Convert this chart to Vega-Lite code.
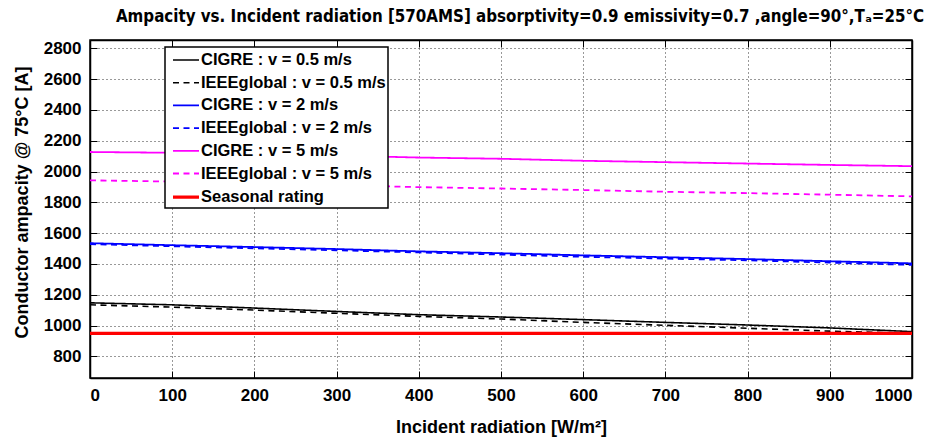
{
  "$schema": "https://vega.github.io/schema/vega-lite/v6.json",
  "width": 822,
  "height": 338,
  "autosize": {"type": "none"},
  "padding": {"left": 90, "top": 40, "right": 21, "bottom": 62},
  "background": "white",
  "title": {
    "text": "Ampacity vs. Incident radiation [570AMS] absorptivity=0.9 emissivity=0.7 ,angle=90°,Tₐ=25°C",
    "font": "DejaVu Sans Condensed",
    "fontWeight": "bold",
    "fontSize": 16.8,
    "color": "black",
    "anchor": "middle",
    "dx": 19,
    "offset": 14
  },
  "data": {
    "values": [
      {"r": 0, "a": 1148, "s": "CIGRE : v = 0.5 m/s"},
      {"r": 100, "a": 1135, "s": "CIGRE : v = 0.5 m/s"},
      {"r": 200, "a": 1114, "s": "CIGRE : v = 0.5 m/s"},
      {"r": 300, "a": 1092, "s": "CIGRE : v = 0.5 m/s"},
      {"r": 400, "a": 1071, "s": "CIGRE : v = 0.5 m/s"},
      {"r": 500, "a": 1056, "s": "CIGRE : v = 0.5 m/s"},
      {"r": 600, "a": 1039, "s": "CIGRE : v = 0.5 m/s"},
      {"r": 700, "a": 1021, "s": "CIGRE : v = 0.5 m/s"},
      {"r": 800, "a": 1004, "s": "CIGRE : v = 0.5 m/s"},
      {"r": 900, "a": 985, "s": "CIGRE : v = 0.5 m/s"},
      {"r": 1000, "a": 961, "s": "CIGRE : v = 0.5 m/s"},
      {"r": 0, "a": 1135, "s": "IEEEglobal : v = 0.5 m/s"},
      {"r": 100, "a": 1120, "s": "IEEEglobal : v = 0.5 m/s"},
      {"r": 200, "a": 1101, "s": "IEEEglobal : v = 0.5 m/s"},
      {"r": 300, "a": 1080, "s": "IEEEglobal : v = 0.5 m/s"},
      {"r": 400, "a": 1060, "s": "IEEEglobal : v = 0.5 m/s"},
      {"r": 500, "a": 1043, "s": "IEEEglobal : v = 0.5 m/s"},
      {"r": 600, "a": 1021, "s": "IEEEglobal : v = 0.5 m/s"},
      {"r": 700, "a": 1002, "s": "IEEEglobal : v = 0.5 m/s"},
      {"r": 800, "a": 983, "s": "IEEEglobal : v = 0.5 m/s"},
      {"r": 900, "a": 964, "s": "IEEEglobal : v = 0.5 m/s"},
      {"r": 1000, "a": 951, "s": "IEEEglobal : v = 0.5 m/s"},
      {"r": 0, "a": 1535, "s": "CIGRE : v = 2 m/s"},
      {"r": 100, "a": 1522, "s": "CIGRE : v = 2 m/s"},
      {"r": 200, "a": 1510, "s": "CIGRE : v = 2 m/s"},
      {"r": 300, "a": 1497, "s": "CIGRE : v = 2 m/s"},
      {"r": 400, "a": 1482, "s": "CIGRE : v = 2 m/s"},
      {"r": 500, "a": 1470, "s": "CIGRE : v = 2 m/s"},
      {"r": 600, "a": 1456, "s": "CIGRE : v = 2 m/s"},
      {"r": 700, "a": 1444, "s": "CIGRE : v = 2 m/s"},
      {"r": 800, "a": 1432, "s": "CIGRE : v = 2 m/s"},
      {"r": 900, "a": 1418, "s": "CIGRE : v = 2 m/s"},
      {"r": 1000, "a": 1404, "s": "CIGRE : v = 2 m/s"},
      {"r": 0, "a": 1529, "s": "IEEEglobal : v = 2 m/s"},
      {"r": 100, "a": 1515, "s": "IEEEglobal : v = 2 m/s"},
      {"r": 200, "a": 1502, "s": "IEEEglobal : v = 2 m/s"},
      {"r": 300, "a": 1489, "s": "IEEEglobal : v = 2 m/s"},
      {"r": 400, "a": 1475, "s": "IEEEglobal : v = 2 m/s"},
      {"r": 500, "a": 1461, "s": "IEEEglobal : v = 2 m/s"},
      {"r": 600, "a": 1447, "s": "IEEEglobal : v = 2 m/s"},
      {"r": 700, "a": 1435, "s": "IEEEglobal : v = 2 m/s"},
      {"r": 800, "a": 1424, "s": "IEEEglobal : v = 2 m/s"},
      {"r": 900, "a": 1409, "s": "IEEEglobal : v = 2 m/s"},
      {"r": 1000, "a": 1394, "s": "IEEEglobal : v = 2 m/s"},
      {"r": 0, "a": 2127, "s": "CIGRE : v = 5 m/s"},
      {"r": 100, "a": 2122, "s": "CIGRE : v = 5 m/s"},
      {"r": 200, "a": 2114, "s": "CIGRE : v = 5 m/s"},
      {"r": 300, "a": 2104, "s": "CIGRE : v = 5 m/s"},
      {"r": 400, "a": 2091, "s": "CIGRE : v = 5 m/s"},
      {"r": 500, "a": 2083, "s": "CIGRE : v = 5 m/s"},
      {"r": 600, "a": 2070, "s": "CIGRE : v = 5 m/s"},
      {"r": 700, "a": 2061, "s": "CIGRE : v = 5 m/s"},
      {"r": 800, "a": 2052, "s": "CIGRE : v = 5 m/s"},
      {"r": 900, "a": 2043, "s": "CIGRE : v = 5 m/s"},
      {"r": 1000, "a": 2035, "s": "CIGRE : v = 5 m/s"},
      {"r": 0, "a": 1943, "s": "IEEEglobal : v = 5 m/s"},
      {"r": 100, "a": 1935, "s": "IEEEglobal : v = 5 m/s"},
      {"r": 200, "a": 1924, "s": "IEEEglobal : v = 5 m/s"},
      {"r": 300, "a": 1912, "s": "IEEEglobal : v = 5 m/s"},
      {"r": 400, "a": 1899, "s": "IEEEglobal : v = 5 m/s"},
      {"r": 500, "a": 1890, "s": "IEEEglobal : v = 5 m/s"},
      {"r": 600, "a": 1880, "s": "IEEEglobal : v = 5 m/s"},
      {"r": 700, "a": 1869, "s": "IEEEglobal : v = 5 m/s"},
      {"r": 800, "a": 1860, "s": "IEEEglobal : v = 5 m/s"},
      {"r": 900, "a": 1850, "s": "IEEEglobal : v = 5 m/s"},
      {"r": 1000, "a": 1839, "s": "IEEEglobal : v = 5 m/s"},
      {"r": 0, "a": 950, "s": "Seasonal rating"},
      {"r": 1000, "a": 950, "s": "Seasonal rating"}
    ]
  },
  "resolve": {"axis": {"x": "independent", "y": "independent"}},
  "layer": [
    {
      "mark": {"type": "line", "clip": true},
      "encoding": {
        "x": {
          "field": "r", "type": "quantitative",
          "scale": {"domain": [0, 1000], "nice": false, "zero": false},
          "axis": {
            "orient": "bottom",
            "values": [0, 100, 200, 300, 400, 500, 600, 700, 800, 900, 1000],
            "format": "d",
            "title": "Incident radiation [W/m²]",
            "tickSize": -7,
            "labelPadding": 16,
            "titlePadding": 15
          }
        },
        "y": {
          "field": "a", "type": "quantitative",
          "scale": {"domain": [660, 2854], "nice": false, "zero": false},
          "axis": {
            "orient": "left",
            "values": [800, 1000, 1200, 1400, 1600, 1800, 2000, 2200, 2400, 2600, 2800],
            "format": "d",
            "title": "Conductor ampacity @ 75°C [A]",
            "tickSize": -7,
            "labelPadding": 16,
            "titlePadding": 12,
            "titleY": 162
          }
        },
        "color": {
          "field": "s", "type": "ordinal",
          "scale": {
            "domain": ["CIGRE : v = 0.5 m/s", "IEEEglobal : v = 0.5 m/s", "CIGRE : v = 2 m/s", "IEEEglobal : v = 2 m/s", "CIGRE : v = 5 m/s", "IEEEglobal : v = 5 m/s", "Seasonal rating"],
            "range": ["#000000", "#000000", "#0000ff", "#0000ff", "#ff00ff", "#ff00ff", "#ff0000"]
          },
          "legend": {"title": null}
        },
        "strokeDash": {
          "field": "s", "type": "ordinal",
          "scale": {
            "domain": ["CIGRE : v = 0.5 m/s", "IEEEglobal : v = 0.5 m/s", "CIGRE : v = 2 m/s", "IEEEglobal : v = 2 m/s", "CIGRE : v = 5 m/s", "IEEEglobal : v = 5 m/s", "Seasonal rating"],
            "range": [[1, 0], [6, 4.5], [1, 0], [6, 4.5], [1, 0], [6, 4.5], [1, 0]]
          },
          "legend": {"title": null}
        },
        "strokeWidth": {
          "field": "s", "type": "ordinal",
          "scale": {
            "type": "ordinal",
            "domain": ["CIGRE : v = 0.5 m/s", "IEEEglobal : v = 0.5 m/s", "CIGRE : v = 2 m/s", "IEEEglobal : v = 2 m/s", "CIGRE : v = 5 m/s", "IEEEglobal : v = 5 m/s", "Seasonal rating"],
            "range": [1.6, 1.6, 1.8, 1.8, 1.8, 1.8, 3.2]
          },
          "legend": {"title": null}
        }
      }
    },
    {
      "mark": {"type": "point", "opacity": 0},
      "encoding": {
        "x": {
          "field": "r", "type": "quantitative",
          "axis": {"orient": "top", "values": [0, 100, 200, 300, 400, 500, 600, 700, 800, 900, 1000], "labels": false, "grid": false, "title": null, "tickSize": -7}
        },
        "y": {
          "field": "a", "type": "quantitative",
          "axis": {"orient": "right", "values": [800, 1000, 1200, 1400, 1600, 1800, 2000, 2200, 2400, 2600, 2800], "labels": false, "grid": false, "title": null, "tickSize": -7}
        }
      }
    }
  ],
  "config": {
    "view": {"stroke": "black", "strokeWidth": 1.5},
    "axis": {
      "labelFont": "Liberation Sans",
      "labelFontWeight": "bold",
      "labelFontSize": 17,
      "labelColor": "black",
      "titleFont": "Liberation Sans",
      "titleFontWeight": "bold",
      "titleFontSize": 18,
      "titleColor": "black",
      "domainColor": "black",
      "domainWidth": 1.5,
      "tickColor": "black",
      "tickWidth": 1,
      "gridColor": "#333333",
      "gridDash": [1, 3],
      "gridWidth": 1,
      "gridOpacity": 1
    },
    "legend": {
      "orient": "none",
      "legendX": 75,
      "legendY": 7,
      "fillColor": "white",
      "strokeColor": "black",
      "strokeWidth": 1.5,
      "padding": 2,
      "labelFont": "Liberation Sans",
      "labelFontWeight": "bold",
      "labelFontSize": 16.5,
      "labelColor": "black",
      "labelLimit": 400,
      "labelOffset": 10,
      "symbolType": "M-0.6,0H2.0",
      "symbolSize": 400,
      "symbolFillColor": "transparent",
      "rowPadding": 2.7
    }
  }
}
